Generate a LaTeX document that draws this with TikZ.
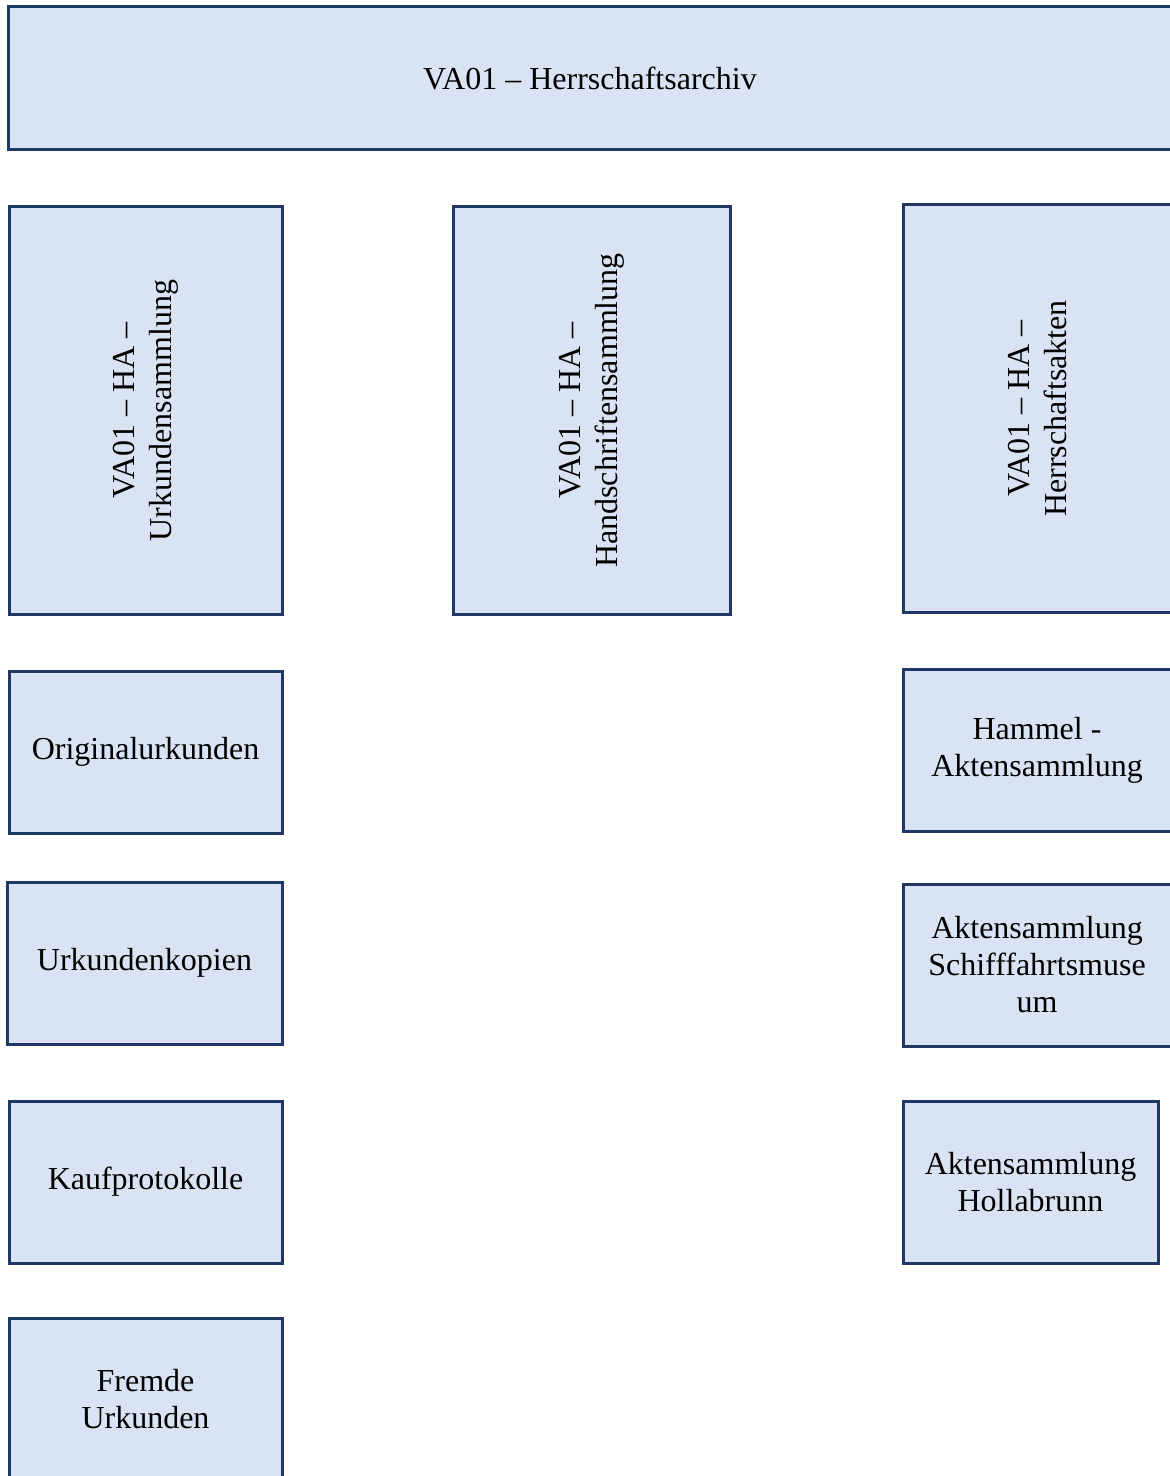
\documentclass[tikz,border=0pt]{standalone}
\usepackage{fontspec}
\setmainfont{Liberation Serif}
\usepackage{tikz}

\definecolor{boxfill}{HTML}{DAE3F3}
\definecolor{boxline}{HTML}{203864}

\begin{document}
\begin{tikzpicture}[x=0.5pt, y=-0.5pt,
    archbox/.style={rectangle, draw=boxline, line width=1.5pt, fill=boxfill,
        inner sep=0pt, align=center, font=\fontsize{16}{18.5}\selectfont}]
    \useasboundingbox (0, 0) rectangle (1170, 1476);

    \node[archbox, minimum width=582pt, minimum height=71.5pt] (va) at (590, 78.5) {VA01 – Herrschaftsarchiv};

    \node[archbox, rotate=90, minimum width=203.5pt, minimum height=136.5pt] (urk) at (145.5, 410.5) {VA01 – HA –\\Urkundensammlung};
    \node[archbox, rotate=90, minimum width=203.5pt, minimum height=138.5pt] (hand) at (591.5, 410.5) {VA01 – HA –\\Handschriftensammlung};
    \node[archbox, rotate=90, minimum width=203.5pt, minimum height=134.5pt] (akten) at (1037.5, 408.5) {VA01 – HA –\\Herrschaftsakten};

    \node[archbox, minimum width=136.5pt, minimum height=81pt] (orig) at (145.5, 752) {Originalurkunden};
    \node[archbox, minimum width=137.5pt, minimum height=81pt] (kopie) at (144.5, 963) {Urkundenkopien};
    \node[archbox, minimum width=136.5pt, minimum height=81pt] (kauf) at (145.5, 1182) {Kaufprotokolle};
    \node[archbox, minimum width=136.5pt, minimum height=81pt] (fremd) at (145.5, 1399) {Fremde\\Urkunden};

    \node[archbox, minimum width=134pt, minimum height=81pt] (hammel) at (1037, 750) {Hammel -\\Aktensammlung};
    \node[archbox, minimum width=134pt, minimum height=81pt] (schiff) at (1037, 965) {Aktensammlung\\Schifffahrtsmuse\\um};
    \node[archbox, minimum width=127.5pt, minimum height=81pt] (holla) at (1030.5, 1182) {Aktensammlung\\Hollabrunn};
\end{tikzpicture}
\end{document}
